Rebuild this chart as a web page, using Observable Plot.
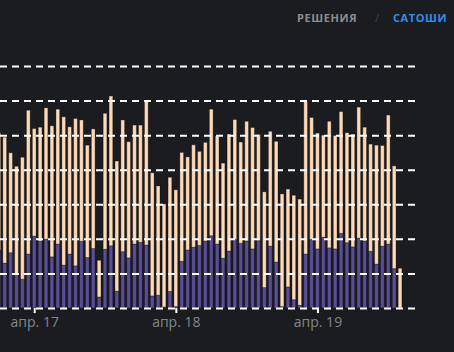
<!DOCTYPE html>
<html>
<head>
<meta charset="utf-8">
<script src="https://cdn.jsdelivr.net/npm/d3@7"></script>
<script src="https://cdn.jsdelivr.net/npm/@observablehq/plot@0.6"></script>
<style>
  html, body { margin: 0; padding: 0; background: #1b1c1f; }
  body { width: 454px; height: 352px; overflow: hidden; font-family: "Open Sans", sans-serif; }
  #header { position: relative; height: 40px; }
  #header span { position: absolute; top: 11px; font-size: 11px; font-weight: 700; letter-spacing: 0.6px; line-height: 14px; }
  #chart svg { display: block; }
</style>
</head>
<body>
<div id="header">
  <span style="left:297px;color:#8d8d8d">РЕШЕНИЯ</span>
  <span style="left:375px;color:#444649;font-weight:400">/</span>
  <span style="left:393px;color:#2f8fee">САТОШИ</span>
</div>
<div id="chart"></div>
<script>
// hourly bars, first entry = 16 Apr 18:00 UTC
const startHour = Date.UTC(2024, 3, 16, 18);
const totals = [507, 494, 449, 410, 436, 572, 519, 523, 579, 527, 575, 553, 524,
  548, 544, 471, 518, 138, 563, 613, 425, 544, 481, 529, 529, 600, 391, 353, 301,
  378, 342, 450, 437, 472, 453, 479, 575, 497, 419, 503, 545, 480, 540, 522, 502,
  336, 511, 482, 330, 344, 326, 315, 597, 551, 506, 500, 540, 499, 568, 507, 503,
  581, 523, 474, 471, 470, 558, 411, 115];
const lowerPart = [168, 130, 160, 98, 83, 156, 208, 193, 199, 148, 185, 124, 156,
  122, 193, 146, 172, 32, 170, 180, 49, 163, 145, 185, 190, 182, 35, 37, 3,
  48, 4, 135, 168, 176, 181, 194, 209, 185, 144, 165, 198, 187, 194, 171, 195,
  59, 179, 133, 4, 61, 24, 8, 156, 198, 171, 205, 174, 171, 216, 189, 177,
  202, 194, 164, 127, 179, 185, 114, 0];
const gridValues = [0, 100, 200, 300, 400, 500, 600, 700];
const tickDates = [Date.UTC(2024, 3, 17), Date.UTC(2024, 3, 18), Date.UTC(2024, 3, 19)].map(t => new Date(t));
const monthLabel = "апр.";

const HOUR = 3600e3;
const rows = totals.map((t, k) => ({
  time: new Date(startHour + k * HOUR),
  total: t,
  lower: lowerPart[k]
}));

const chart = Plot.plot({
  width: 454,
  height: 312,
  marginTop: 26,
  marginBottom: 44,
  marginLeft: 0,
  marginRight: 38,
  style: { background: "transparent", fontFamily: "'Open Sans', sans-serif", overflow: "visible" },
  x: { type: "utc", domain: [new Date(startHour + 0.203 * HOUR), new Date(startHour + 70.7 * HOUR)], axis: null },
  y: { domain: [0, 700], axis: null },
  marks: [
    Plot.rect(rows, {
      x1: d => new Date(+d.time - HOUR / 2), x2: d => new Date(+d.time + HOUR / 2),
      y1: 0, y2: "lower",
      insetLeft: 1.1, insetRight: 1.1,
      fill: "#5a4e96", stroke: "#000", strokeOpacity: 0.3, strokeWidth: 1
    }),
    Plot.rect(rows, {
      x1: d => new Date(+d.time - HOUR / 2), x2: d => new Date(+d.time + HOUR / 2),
      y1: "lower", y2: "total",
      insetLeft: 1.1, insetRight: 1.1,
      fill: "#fdd9b8", stroke: "#000", strokeOpacity: 0.3, strokeWidth: 1
    }),
    Plot.ruleY(gridValues, { stroke: "#ffffff", strokeWidth: 2, strokeDasharray: "7,5" }),
    Plot.axisX({ ticks: tickDates, tickSize: 5, tickFormat: () => "", color: "#ffffff", strokeWidth: 2 }),
    Plot.axisX({ ticks: tickDates, tickSize: 0, tickPadding: 9, fontSize: 14, color: "#80888b",
      tickFormat: d => `${monthLabel} ${d.getUTCDate()}` })
  ]
});
document.getElementById("chart").appendChild(chart);
</script>
</body>
</html>
